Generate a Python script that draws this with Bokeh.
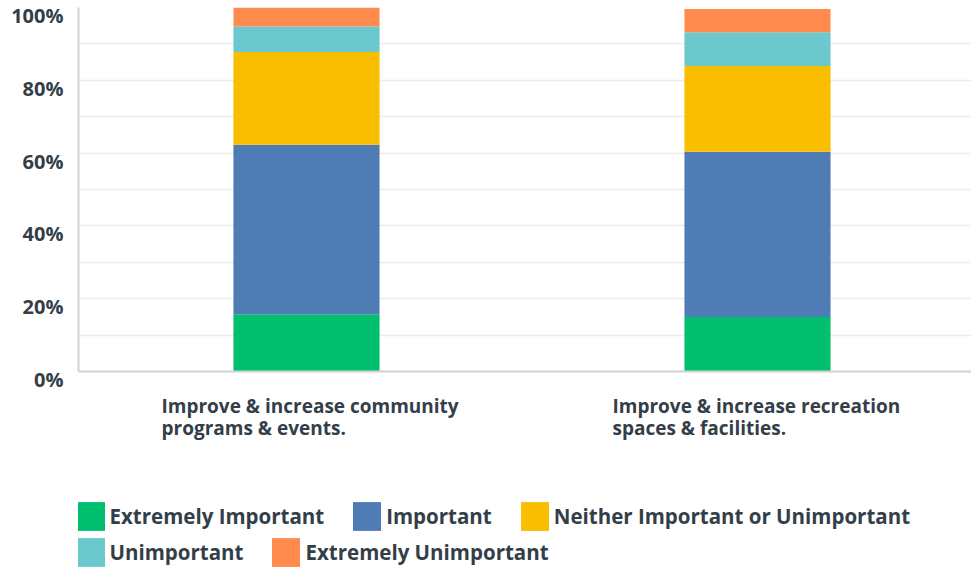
from bokeh.plotting import figure
from bokeh.models import (ColumnDataSource, Range1d, FixedTicker, Legend,
                          LegendItem, Span, LinearAxis)
from bokeh.core.properties import value
from bokeh.embed import file_html
from bokeh.resources import INLINE

# ---- data ----
categories = ["Improve & increase community\nprograms & events.",
              "Improve & increase recreation\nspaces & facilities."]
series = ["Extremely Important", "Important", "Neither Important or Unimportant",
          "Unimportant", "Extremely Unimportant"]
extremely_important = [15.7, 15.0]
important = [46.6, 45.4]
neither = [25.5, 23.5]
unimportant = [7.0, 9.3]
extremely_unimportant = [5.2, 6.4]
colors = ["#00bf6f", "#507cb6", "#f9be00", "#6bc8cd", "#ff8b4f"]
y_ticks = [0, 20, 40, 60, 80, 100]
y_minor = [10, 30, 50, 70, 90]
y_tick_labels = ["0%", "20%", "40%", "60%", "80%", "100%"]

FONT = "Open Sans"
TXT = "#333e48"

# layout: plot area 0..100 occupies 364 px; the rest of the frame below holds
# category labels and the legend
PX_PER_UNIT = 364 / 100
Y_BOTTOM = -196 / PX_PER_UNIT
LABEL_SHIFT = 8 / PX_PER_UNIT   # tick labels sit ~8px below their gridline

keys = ["s0", "s1", "s2", "s3", "s4"]
xs = list(range(len(categories)))
source = ColumnDataSource(dict(x=xs, s0=extremely_important, s1=important,
                               s2=neither, s3=unimportant, s4=extremely_unimportant))

p = figure(width=971, height=567, output_backend="svg", toolbar_location=None,
           x_range=Range1d(-0.5055, 1.4745), y_range=Range1d(Y_BOTTOM, 100),
           min_border_left=78, min_border_right=0, min_border_top=7,
           min_border_bottom=0)
p.outline_line_color = None
p.background_fill_color = "white"
p.border_fill_color = "white"
p.extra_y_ranges = {"labels": Range1d(Y_BOTTOM + LABEL_SHIFT, 100 + LABEL_SHIFT)}

renderers = p.vbar_stack(keys, x="x", width=0.324, color=colors, line_color=None,
                         source=source)

p.xaxis.visible = False
p.add_layout(Span(location=0, dimension="width", line_color="#d3d3d3", line_width=2))

# y axis line (no labels)
p.yaxis.bounds = (0, 100)
p.yaxis.ticker = FixedTicker(ticks=[])
p.yaxis.axis_line_color = "#d3d3d3"
p.yaxis.axis_line_width = 2
p.yaxis.major_tick_line_color = None
p.yaxis.minor_tick_line_color = None
p.yaxis.major_tick_out = 0
p.yaxis.major_tick_in = 0
p.yaxis.major_label_standoff = 0

# y tick labels, drawn slightly below their gridlines
lab_axis = LinearAxis(y_range_name="labels",
                      ticker=FixedTicker(ticks=y_ticks),
                      major_label_overrides={t: l for t, l in zip(y_ticks, y_tick_labels)},
                      axis_line_color=None, major_tick_line_color=None,
                      minor_tick_line_color=None, major_tick_out=0, major_tick_in=0,
                      major_label_standoff=15, major_label_text_font=FONT,
                      major_label_text_font_style="bold",
                      major_label_text_font_size="20px",
                      major_label_text_color=TXT)
p.add_layout(lab_axis, "left")

p.xgrid.grid_line_color = None
p.ygrid.ticker = FixedTicker(ticks=y_ticks, minor_ticks=y_minor)
p.ygrid.grid_line_color = "#ececec"
p.ygrid.grid_line_width = 1.5
p.ygrid.minor_grid_line_color = "#ececec"
p.ygrid.minor_grid_line_width = 1.5

# category labels, left aligned under each bar
cat_src = ColumnDataSource(dict(x=xs, y=[0] * len(xs), text=categories))
p.text(x="x", y="y", text="text", source=cat_src, x_offset=-145, y_offset=21,
       text_align="left", text_baseline="top", text_font=value(FONT),
       text_font_style="bold", text_font_size="19px", text_color=TXT,
       text_line_height=0.85)

# legends (two flowing rows)
def make_legend(idx, loc):
    items = [LegendItem(label=series[i], renderers=[renderers[i]]) for i in idx]
    return Legend(items=items, orientation="horizontal", location=loc,
                  padding=0, margin=0, spacing=25, label_standoff=2,
                  glyph_width=35, glyph_height=36,
                  label_text_font=FONT, label_text_font_style="bold",
                  label_text_font_size="20.5px", label_text_color=TXT,
                  border_line_color=None, background_fill_alpha=0)

p.add_layout(make_legend([0, 1, 2], (-5.5, 33.5)))
p.add_layout(make_legend([3, 4], (-5.5, -2.5)))

open("out.html", "w").write(file_html(p, INLINE))
